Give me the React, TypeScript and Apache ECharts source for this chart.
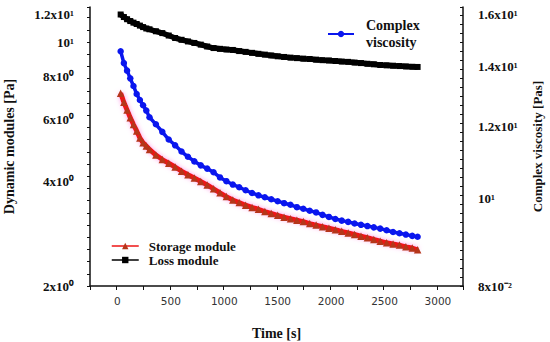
import React, { useEffect, useRef } from "react";
import * as echarts from "echarts";

const times = [30, 60, 90, 120, 150, 180, 210, 240, 270, 300, 360, 420, 480, 540, 600, 660, 720, 780, 840, 900, 960, 1020, 1080, 1140, 1200, 1260, 1320, 1380, 1440, 1500, 1560, 1620, 1680, 1740, 1800, 1860, 1920, 1980, 2040, 2100, 2160, 2220, 2280, 2340, 2400, 2460, 2520, 2580, 2640, 2700, 2760, 2810];

const storageModule = [7.15, 6.73, 6.4, 6.08, 5.81, 5.57, 5.32, 5.15, 5.04, 4.93, 4.75, 4.61, 4.5, 4.39, 4.27, 4.17, 4.08, 3.99, 3.9, 3.8, 3.7, 3.61, 3.53, 3.47, 3.41, 3.36, 3.32, 3.27, 3.23, 3.19, 3.15, 3.12, 3.09, 3.06, 3.02, 2.99, 2.96, 2.93, 2.9, 2.87, 2.84, 2.81, 2.78, 2.75, 2.72, 2.69, 2.66, 2.64, 2.62, 2.59, 2.57, 2.54];

const lossModule = [12.02, 11.82, 11.65, 11.51, 11.39, 11.29, 11.17, 11.06, 10.96, 10.9, 10.76, 10.63, 10.46, 10.29, 10.17, 10.06, 9.96, 9.85, 9.73, 9.63, 9.58, 9.54, 9.51, 9.44, 9.39, 9.33, 9.27, 9.22, 9.17, 9.12, 9.08, 9.04, 9.01, 8.98, 8.96, 8.92, 8.89, 8.87, 8.84, 8.81, 8.79, 8.75, 8.72, 8.68, 8.65, 8.61, 8.59, 8.57, 8.55, 8.53, 8.51, 8.5];

const complexViscosity = [14.55, 14.12, 13.85, 13.58, 13.32, 13.05, 12.85, 12.68, 12.51, 12.3, 12.08, 11.85, 11.62, 11.45, 11.27, 11.12, 10.99, 10.88, 10.79, 10.69, 10.55, 10.45, 10.36, 10.29, 10.21, 10.14, 10.08, 10.03, 9.98, 9.93, 9.88, 9.84, 9.78, 9.74, 9.69, 9.65, 9.59, 9.54, 9.49, 9.45, 9.42, 9.38, 9.35, 9.32, 9.29, 9.26, 9.22, 9.18, 9.15, 9.12, 9.09, 9.07];

const xLabelValues = [0, 500, 1000, 1500, 2000, 2500, 3000];

const leftTickValues = [2, 4, 6, 8, 10, 12];
const leftTickLabels = ["2x10⁰", "4x10⁰", "6x10⁰", "8x10⁰", "10¹", "1.2x10¹"];
const rightTickValues = [8, 10, 12, 14, 16];
const rightTickLabels = ["8x10⁻²", "10¹", "1.2x10¹", "1.4x10¹", "1.6x10¹"];

const serif = "'Liberation Serif', 'Times New Roman', serif";

function labelFor(values: number[], labels: string[]) {
  return (v: number) => {
    for (let i = 0; i < values.length; i++) {
      if (Math.abs(Math.log10(values[i]) - v) < 1e-6) return labels[i];
    }
    return "";
  };
}

export default function App() {
  const ref = useRef<HTMLDivElement>(null);
  useEffect(() => {
    document.body.style.margin = "0";
    const chart = echarts.init(ref.current!, undefined, { renderer: "svg" });
    const toPairs = (vals: number[]) => times.map((t, i) => [t, Math.log10(vals[i])]);
    chart.setOption({
      animation: false,
      backgroundColor: "#ffffff",
      grid: { left: 90, right: 87, top: 7, bottom: 56, containLabel: false, outerBoundsMode: "none" },
      legend: [
        {
          data: ["Complex viscosity"],
          left: 322,
          top: 12,
          itemWidth: 26,
          itemHeight: 8,
          formatter: () => "Complex\nviscosity",
          textStyle: { fontFamily: serif, fontWeight: "bold", fontSize: 14, lineHeight: 17, color: "#111", padding: [0, 0, 0, 7] },
          lineStyle: { width: 2 },
        },
        {
          data: ["Storage module", "Loss module"],
          orient: "vertical",
          left: 106,
          top: 234,
          itemGap: 0,
          itemWidth: 27,
          itemHeight: 8,
          textStyle: { fontFamily: serif, fontWeight: "bold", fontSize: 13, lineHeight: 14, color: "#111", padding: [0, 0, 0, 5] },
          lineStyle: { width: 1.5 },
        },
      ],
      xAxis: {
        type: "value",
        min: -257,
        max: 3235,
        interval: 250,
        name: "Time [s]",
        nameLocation: "middle",
        nameGap: 40,
        nameTextStyle: { fontFamily: serif, fontWeight: "bold", fontSize: 14, color: "#111" },
        axisLine: { show: true, onZero: false, lineStyle: { color: "#111", width: 1.5 } },
        axisTick: { show: true, length: 4, lineStyle: { color: "#111", width: 1 } },
        axisLabel: {
          customValues: xLabelValues,
          formatter: (v: number) => String(v),
          fontFamily: "'DejaVu Sans', sans-serif",
          fontSize: 10.5,
          color: "#333",
          margin: 9,
        },
        splitLine: { show: false },
      },
      yAxis: [
        {
          type: "value",
          position: "left",
          min: Math.log10(2),
          max: 1.1014,
          interval: 0.035,
          name: "Dynamic modules [Pa]",
          nameLocation: "middle",
          nameRotate: 90,
          nameGap: 74,
          nameTextStyle: { fontFamily: serif, fontWeight: "bold", fontSize: 14, color: "#111" },
          axisLine: { show: true, onZero: false, lineStyle: { color: "#111", width: 1.5 } },
          axisTick: { show: true, length: 3, lineStyle: { color: "#111", width: 1 } },
          axisLabel: {
            customValues: leftTickValues.map((v) => Math.log10(v)),
            formatter: labelFor(leftTickValues, leftTickLabels),
            fontFamily: serif,
            fontWeight: "bold",
            fontSize: 13,
            color: "#111",
            margin: 16,
          },
          splitLine: { show: false },
        },
        {
          type: "value",
          position: "right",
          min: Math.log10(8),
          max: 1.2119,
          interval: 0.01,
          name: "Complex viscosity [Pas]",
          nameLocation: "middle",
          nameRotate: 90,
          nameGap: 68,
          nameTextStyle: { fontFamily: serif, fontWeight: "bold", fontSize: 13, color: "#111" },
          axisLine: { show: true, onZero: false, lineStyle: { color: "#111", width: 1.5 } },
          axisTick: { show: true, inside: true, length: 3, lineStyle: { color: "#111", width: 1 } },
          axisLabel: {
            customValues: rightTickValues.map((v) => Math.log10(v)),
            formatter: labelFor(rightTickValues, rightTickLabels),
            fontFamily: serif,
            fontWeight: "bold",
            fontSize: 13,
            color: "#111",
            margin: 15,
          },
          splitLine: { show: false },
        },
      ],
      series: [
        {
          name: "Loss module",
          type: "line",
          yAxisIndex: 0,
          data: toPairs(lossModule),
          symbol: "rect",
          symbolSize: 6,
          itemStyle: { color: "#000" },
          lineStyle: { color: "#000", width: 5.5 },
        },
        {
          name: "Complex viscosity",
          type: "line",
          yAxisIndex: 1,
          data: toPairs(complexViscosity),
          symbol: "circle",
          symbolSize: 6.5,
          itemStyle: { color: "#0a16ee" },
          lineStyle: { color: "#0a16ee", width: 3.5 },
        },
        {
          name: "Storage module",
          type: "line",
          yAxisIndex: 0,
          data: toPairs(storageModule),
          symbol: "triangle",
          symbolSize: 7.5,
          itemStyle: { color: "#b5361a" },
          lineStyle: { color: "#ee1414", width: 5, shadowColor: "rgba(255,120,220,0.7)", shadowBlur: 5 },
        },
      ],
    });
    return () => chart.dispose();
  }, []);
  return <div ref={ref} style={{ position: "absolute", left: 0, top: 0, width: 550, height: 342 }} />;
}
